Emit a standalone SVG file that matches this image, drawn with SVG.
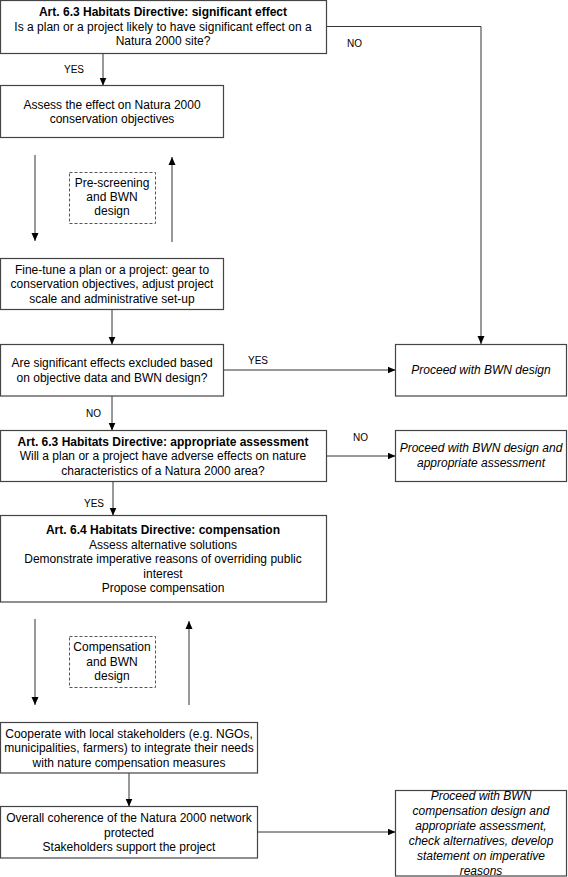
<svg xmlns="http://www.w3.org/2000/svg" width="568" height="877" viewBox="0 0 568 877">
<defs>
<style>
.box{fill:#fff;stroke:#444;stroke-width:1.2}
.dash{fill:#fff;stroke:#555;stroke-width:1;stroke-dasharray:3,2}
.t{font-family:"Liberation Sans",Arial,sans-serif;font-size:12px;fill:#000;text-anchor:middle}
.b{font-weight:bold}
.i{font-style:italic}
.lbl{font-family:"Liberation Sans",Arial,sans-serif;font-size:10px;fill:#000}
.c{fill:none;stroke:#333;stroke-width:1}
</style>
<marker id="ah" viewBox="0 0 8 8" refX="8" refY="4" markerWidth="8" markerHeight="8" markerUnits="userSpaceOnUse" orient="auto">
<path d="M0,0.5 L8,4 L0,7.5 Z" fill="#000"/>
</marker>
</defs>
<rect width="568" height="877" fill="#fff"/>

<g id="connectors">
<path class="c" d="M326.5,26.5 H481 V344" marker-end="url(#ah)"/>
<path class="c" d="M103,54 V85.5" marker-end="url(#ah)"/>
<path class="c" d="M35,155 V241" marker-end="url(#ah)"/>
<path class="c" d="M172,242 V157" marker-end="url(#ah)"/>
<path class="c" d="M112,309.5 V344.5" marker-end="url(#ah)"/>
<path class="c" d="M223.5,370 H395.5" marker-end="url(#ah)"/>
<path class="c" d="M112,396 V430.5" marker-end="url(#ah)"/>
<path class="c" d="M326.5,456 H395.5" marker-end="url(#ah)"/>
<path class="c" d="M113,481.5 V515.5" marker-end="url(#ah)"/>
<path class="c" d="M35,619 V705" marker-end="url(#ah)"/>
<path class="c" d="M189,705 V621" marker-end="url(#ah)"/>
<path class="c" d="M129,773 V806.5" marker-end="url(#ah)"/>
<path class="c" d="M257.5,832 H395.5" marker-end="url(#ah)"/>
<text class="lbl" x="347" y="47">NO</text>
<text class="lbl" x="64" y="73">YES</text>
<text class="lbl" x="248" y="364">YES</text>
<text class="lbl" x="86" y="417">NO</text>
<text class="lbl" x="353" y="441">NO</text>
<text class="lbl" x="84" y="507">YES</text>
</g>

<g id="n1">
<rect class="box" x="0.5" y="0.5" width="326" height="53"/>
<text class="t b" x="163" y="15.5">Art. 6.3 Habitats Directive: significant effect</text>
<text class="t" x="163" y="30.5">Is a plan or a project likely to have significant effect on a</text>
<text class="t" x="163" y="45">Natura 2000 site?</text>
</g>

<g id="n2">
<rect class="box" x="0.5" y="85.5" width="223" height="52"/>
<text class="t" x="112" y="108.5">Assess the effect on Natura 2000</text>
<text class="t" x="112" y="123">conservation objectives</text>
</g>

<g id="n3">
<rect class="dash" x="69.5" y="172.5" width="86" height="51"/>
<text class="t" x="112" y="187">Pre-screening</text>
<text class="t" x="112" y="201">and BWN</text>
<text class="t" x="112" y="215">design</text>
</g>

<g id="n4">
<rect class="box" x="0.5" y="258.5" width="223" height="51"/>
<text class="t" x="112" y="273.5">Fine-tune a plan or a project: gear to</text>
<text class="t" x="112" y="288">conservation objectives, adjust project</text>
<text class="t" x="112" y="302.5">scale and administrative set-up</text>
</g>

<g id="n5">
<rect class="box" x="0.5" y="344.5" width="223" height="51.5"/>
<text class="t" x="112" y="367">Are significant effects excluded based</text>
<text class="t" x="112" y="381.5">on objective data and BWN design?</text>
</g>

<g id="n6">
<rect class="box" x="395.5" y="344.5" width="171" height="51.5"/>
<text class="t i" x="481" y="374">Proceed with BWN design</text>
</g>

<g id="n7">
<rect class="box" x="0.5" y="430.5" width="326" height="51"/>
<text class="t b" x="163" y="445.5">Art. 6.3 Habitats Directive: appropriate assessment</text>
<text class="t" x="163" y="460">Will a plan or a project have adverse effects on nature</text>
<text class="t" x="163" y="474.5">characteristics of a Natura 2000 area?</text>
</g>

<g id="n8">
<rect class="box" x="395.5" y="430.5" width="171" height="51"/>
<text class="t i" x="481" y="452">Proceed with BWN design and</text>
<text class="t i" x="481" y="467">appropriate assessment</text>
</g>

<g id="n9">
<rect class="box" x="0.5" y="515.5" width="326" height="86.5"/>
<text class="t b" x="163" y="534">Art. 6.4 Habitats Directive: compensation</text>
<text class="t" x="163" y="548.5">Assess alternative solutions</text>
<text class="t" x="163" y="563">Demonstrate imperative reasons of overriding public</text>
<text class="t" x="163" y="577.5">interest</text>
<text class="t" x="163" y="592">Propose compensation</text>
</g>

<g id="n10">
<rect class="dash" x="69.5" y="636.5" width="86" height="51"/>
<text class="t" x="112" y="651">Compensation</text>
<text class="t" x="112" y="665.5">and BWN</text>
<text class="t" x="112" y="680">design</text>
</g>

<g id="n11">
<rect class="box" x="0.5" y="722.5" width="257" height="50.5"/>
<text class="t" x="129" y="737.5">Cooperate with local stakeholders (e.g. NGOs,</text>
<text class="t" x="129" y="752">municipalities, farmers) to integrate their needs</text>
<text class="t" x="129" y="766.5">with nature compensation measures</text>
</g>

<g id="n12">
<rect class="box" x="0.5" y="806.5" width="257" height="51.5"/>
<text class="t" x="129" y="822">Overall coherence of the Natura 2000 network</text>
<text class="t" x="129" y="836.5">protected</text>
<text class="t" x="129" y="851">Stakeholders support the project</text>
</g>

<g id="n13">
<rect class="box" x="395.5" y="790.5" width="171" height="85.5"/>
<text class="t i" x="481" y="799.5">Proceed with BWN</text>
<text class="t i" x="481" y="814.5">compensation design and</text>
<text class="t i" x="481" y="829.5">appropriate assessment,</text>
<text class="t i" x="481" y="844.5">check alternatives, develop</text>
<text class="t i" x="481" y="859.5">statement on imperative</text>
<text class="t i" x="481" y="874.5">reasons</text>
</g>
</svg>
